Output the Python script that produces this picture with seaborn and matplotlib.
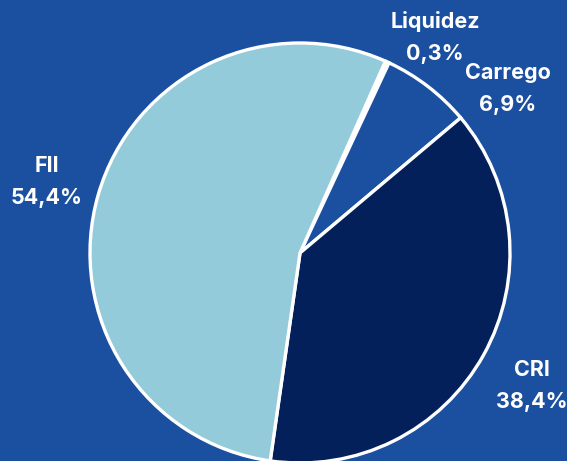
import matplotlib
matplotlib.use("Agg")
import matplotlib.pyplot as plt
import seaborn as sns

# Portfolio allocation
categories = ["Liquidez", "Carrego", "CRI", "FII"]
shares = [0.3, 6.9, 38.4, 54.4]
value_labels = ["0,3%", "6,9%", "38,4%", "54,4%"]

BG = "#1b50a1"
slice_colors = ["#ffffff", "#1b50a1", "#03205a", "#93cbdb"]

sns.set_theme(style="white")
plt.rcParams["font.family"] = ["Inter", "DejaVu Sans"]

W, H, DPI = 567, 461, 100
fig = plt.figure(figsize=(W / DPI, H / DPI), dpi=DPI, facecolor=BG)

# pie centre and radius in pixels
cx, cy, r = 300, 253, 210
ax = fig.add_axes([(cx - r) / W, (H - cy - r) / H, 2 * r / W, 2 * r / H])
ax.set_facecolor(BG)

wedges, _ = ax.pie(
    shares,
    colors=slice_colors,
    startangle=66.0,
    counterclock=False,
    radius=1.0,
    wedgeprops=dict(edgecolor="white", linewidth=2.4),
)
for w in wedges:
    w.set_clip_on(False)
ax.set_xlim(-1.0, 1.0)
ax.set_ylim(-1.0, 1.0)
ax.set_axis_off()

# label anchor points (pixel centres)
label_pos = {
    "Liquidez": (435, 37),
    "Carrego": (508, 89),
    "CRI": (532, 386),
    "FII": (47, 182),
}
for name, val in zip(categories, value_labels):
    px, py = label_pos[name]
    fig.text(px / W, 1 - py / H, f"{name}\n{val}", ha="center", va="center",
             color="white", fontsize=15.5, fontweight="bold", linespacing=1.75)

fig.savefig("out.png", dpi=DPI, facecolor=BG)
